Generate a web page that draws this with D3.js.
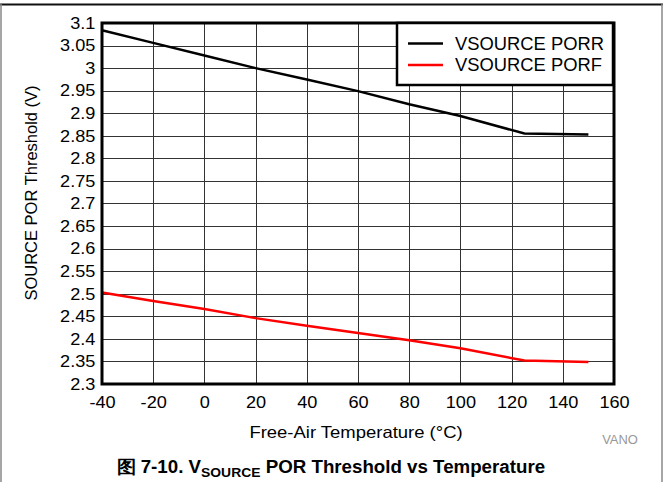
<!DOCTYPE html>
<html><head><meta charset="utf-8">
<script src="https://cdn.jsdelivr.net/npm/d3@7"></script>
<style>
html,body{margin:0;padding:0;background:#fff;}
svg text{font-family:"Liberation Sans",Arial,sans-serif;}
</style></head>
<body>
<svg id="chart" width="663" height="482"></svg>
<script>
const temps = [-40, -20, 0, 20, 40, 60, 80, 100, 125, 150];
const porr = [3.084, 3.056, 3.028, 3.0, 2.975, 2.949, 2.920, 2.894, 2.855, 2.853];
const porf = [2.503, 2.484, 2.466, 2.446, 2.429, 2.413, 2.397, 2.379, 2.352, 2.349];
const xTicks = [-40, -20, 0, 20, 40, 60, 80, 100, 120, 140, 160];
const yTicks = [2.3, 2.35, 2.4, 2.45, 2.5, 2.55, 2.6, 2.65, 2.7, 2.75, 2.8, 2.85, 2.9, 2.95, 3, 3.05, 3.1];
const seriesNames = ["VSOURCE PORR", "VSOURCE PORF"];
const seriesColors = ["#000000", "#ff0000"];

const svg = d3.select("#chart");
const L = 102, R = 614, T = 23, B = 384;
const x = d3.scaleLinear().domain([-40, 160]).range([L, R]);
const y = d3.scaleLinear().domain([2.3, 3.1]).range([B, T]);

function stretch(sel, k, cx) {
  sel.each(function(){
    const el = d3.select(this);
    const c = cx === undefined ? 0 : cx;
    el.attr("transform", (el.attr("transform")||"") + ` translate(${c},0) scale(${k},1) translate(${-c},0)`);
  });
}

// outer frame
svg.append("line").attr("x1",0).attr("x2",663).attr("y1",4.5).attr("y2",4.5).attr("stroke","#111").attr("stroke-width",2);
svg.append("line").attr("x1",1).attr("x2",1).attr("y1",4).attr("y2",482).attr("stroke","#888").attr("stroke-width",1.5);
svg.append("line").attr("x1",662).attr("x2",662).attr("y1",4).attr("y2",482).attr("stroke","#888").attr("stroke-width",1.5);

// grid
svg.append("g").selectAll("line").data(xTicks).join("line")
  .attr("x1",d=>Math.round(x(d))+0.5).attr("x2",d=>Math.round(x(d))+0.5)
  .attr("y1",T).attr("y2",B).attr("stroke","#333").attr("stroke-width",1);
svg.append("g").selectAll("line").data(yTicks).join("line")
  .attr("y1",d=>Math.round(y(d))+0.5).attr("y2",d=>Math.round(y(d))+0.5)
  .attr("x1",L).attr("x2",R).attr("stroke","#333").attr("stroke-width",1);

// axes (ticks hidden, labels only)
const fmtY = d => String(+d.toFixed(2));
const yAxis = svg.append("g").attr("transform",`translate(${L},0)`)
  .call(d3.axisLeft(y).tickValues(yTicks).tickFormat(fmtY).tickSize(0).tickPadding(6));
yAxis.select(".domain").remove();
yAxis.selectAll("text").attr("font-size",16.5).attr("fill","#000").attr("font-family","Liberation Sans, Arial, sans-serif");
stretch(yAxis.selectAll("text"), 1.1, 0);

const xAxis = svg.append("g").attr("transform",`translate(0,${B})`)
  .call(d3.axisBottom(x).tickValues(xTicks).tickFormat(d => String(d)).tickSize(0).tickPadding(12));
xAxis.select(".domain").remove();
xAxis.selectAll("text").attr("font-size",16.5).attr("fill","#000").attr("font-family","Liberation Sans, Arial, sans-serif");
stretch(xAxis.selectAll("text"), 1.1, 0);

// lines
const line = d3.line().x((d,i)=>x(temps[i])).y(d=>y(d));
[porr, porf].forEach((s,k)=>{
  svg.append("path").datum(s).attr("d",line).attr("fill","none")
    .attr("stroke",seriesColors[k]).attr("stroke-width",2.5);
});

// plot frame
svg.append("rect").attr("x",L).attr("y",T).attr("width",R-L).attr("height",B-T)
  .attr("fill","none").attr("stroke","#000").attr("stroke-width",3);

// legend
const lg = svg.append("g");
lg.append("rect").attr("x",397).attr("y",23).attr("width",216).attr("height",62)
  .attr("fill","#fff").attr("stroke","#000").attr("stroke-width",2.5);
seriesNames.forEach((n,k)=>{
  const yy = 43.5 + k*21.5;
  lg.append("line").attr("x1",408).attr("x2",443).attr("y1",yy).attr("y2",yy)
    .attr("stroke",seriesColors[k]).attr("stroke-width",2.5);
  const t = lg.append("text").attr("x",455).attr("y",yy+6.3).attr("font-size",17.5).text(n);
  stretch(t, 1.05, 455);
});

// axis titles
svg.append("text").attr("transform","translate(37,193) rotate(-90)").attr("text-anchor","middle")
  .attr("font-size",16.5).text("SOURCE POR Threshold (V)");
const xt = svg.append("text").attr("x",356).attr("y",438).attr("text-anchor","middle")
  .attr("font-size",16.5).text("Free-Air Temperature (°C)");
stretch(xt, 1.12, 356);
const vn = svg.append("text").attr("x",620).attr("y",444).attr("text-anchor","middle")
  .attr("font-size",12).attr("fill","#999").text("VANO");
stretch(vn, 1.08, 620);

// caption
const cap = svg.append("text").attr("x",331).attr("y",473).attr("text-anchor","middle")
  .attr("font-size",17.5).attr("font-weight","bold");
cap.append("tspan").text("图 7-10. V");
cap.append("tspan").attr("font-size",13).attr("dy",4).text("SOURCE");
cap.append("tspan").attr("dy",-4).text(" POR Threshold vs Temperature");
stretch(cap, 1.07, 331);
</script>
</body></html>
